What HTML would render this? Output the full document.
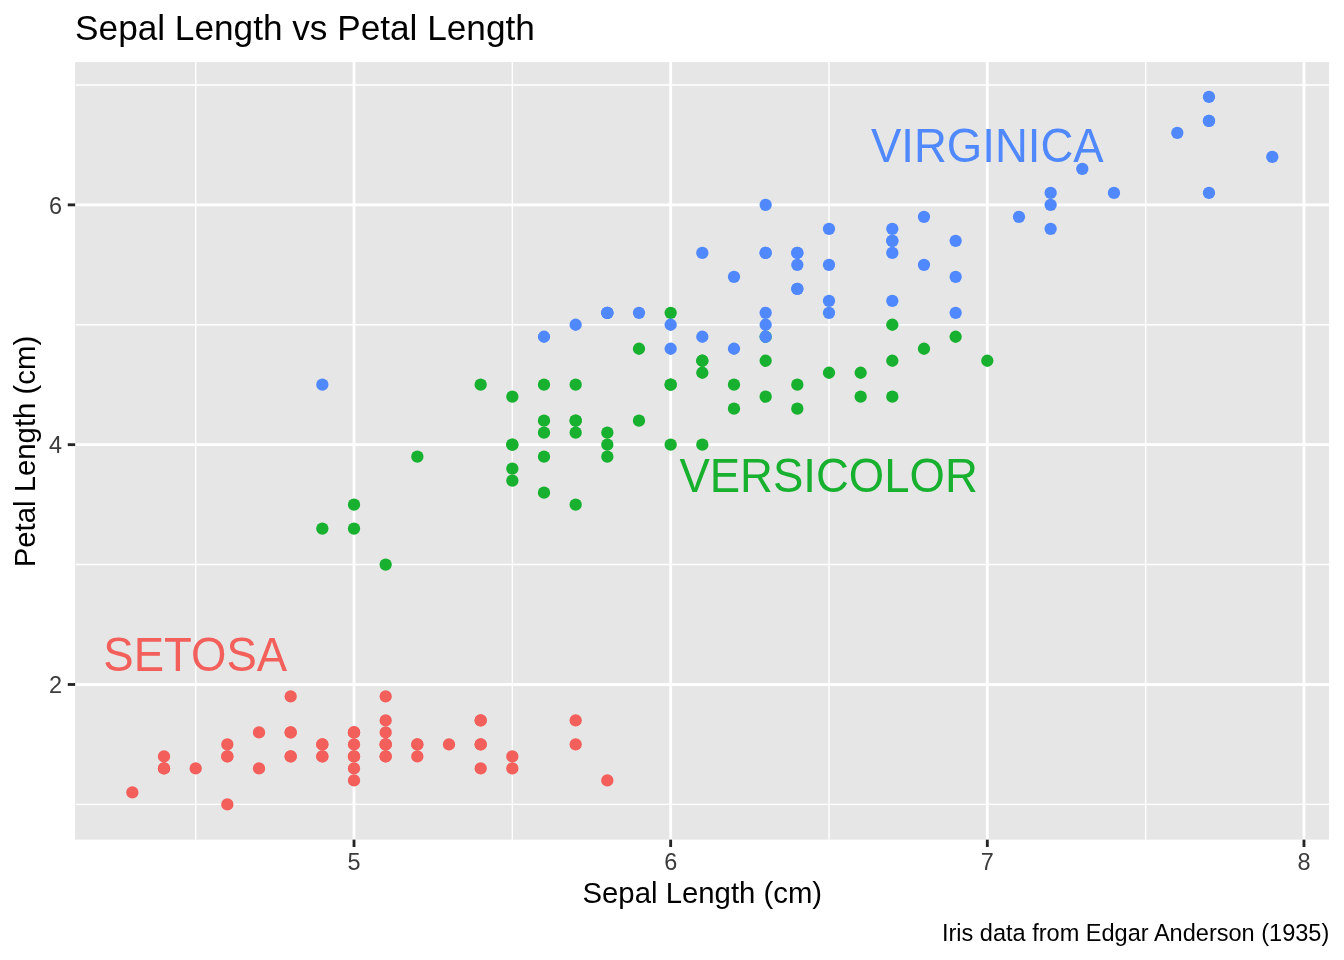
<!DOCTYPE html>
<html lang="en"><head><meta charset="utf-8"><title>Sepal Length vs Petal Length</title>
<style>html,body{margin:0;padding:0;background:#fff;}body{width:1344px;height:960px;overflow:hidden;}svg{display:block;font-family:"Liberation Sans",Arial,Helvetica,sans-serif;}</style></head><body>
<svg width="1344" height="960" viewBox="0 0 1344 960">
<rect width="1344" height="960" fill="#fff"/>
<rect x="75.1" y="62.05" width="1253.95" height="777.60" fill="#E6E6E6"/>
<g stroke="#fff" stroke-width="1.42" fill="none">
<line x1="195.68" x2="195.68" y1="62.05" y2="839.65"/>
<line x1="512.33" x2="512.33" y1="62.05" y2="839.65"/>
<line x1="828.99" x2="828.99" y1="62.05" y2="839.65"/>
<line x1="1145.64" x2="1145.64" y1="62.05" y2="839.65"/>
<line y1="804.39" y2="804.39" x1="75.70" x2="1329.05"/>
<line y1="564.58" y2="564.58" x1="75.70" x2="1329.05"/>
<line y1="324.77" y2="324.77" x1="75.70" x2="1329.05"/>
<line y1="84.96" y2="84.96" x1="75.70" x2="1329.05"/>
</g>
<g stroke="#fff" stroke-width="2.85" fill="none">
<line x1="354.01" x2="354.01" y1="62.05" y2="839.65"/>
<line x1="670.66" x2="670.66" y1="62.05" y2="839.65"/>
<line x1="987.31" x2="987.31" y1="62.05" y2="839.65"/>
<line x1="1303.97" x2="1303.97" y1="62.05" y2="839.65"/>
<line y1="684.48" y2="684.48" x1="75.70" x2="1329.05"/>
<line y1="444.67" y2="444.67" x1="75.70" x2="1329.05"/>
<line y1="204.87" y2="204.87" x1="75.70" x2="1329.05"/>
</g>
<g stroke="#242424" stroke-width="2.85" fill="none">
<line x1="354.01" x2="354.01" y1="839.65" y2="846.98"/>
<line x1="670.66" x2="670.66" y1="839.65" y2="846.98"/>
<line x1="987.31" x2="987.31" y1="839.65" y2="846.98"/>
<line x1="1303.97" x2="1303.97" y1="839.65" y2="846.98"/>
<line y1="684.48" y2="684.48" x1="67.77" x2="75.1"/>
<line y1="444.67" y2="444.67" x1="67.77" x2="75.1"/>
<line y1="204.87" y2="204.87" x1="67.77" x2="75.1"/>
</g>
<g fill="#F35F5B">
<circle cx="385.67" cy="756.43" r="6.15"/>
<circle cx="322.34" cy="756.43" r="6.15"/>
<circle cx="259.01" cy="768.42" r="6.15"/>
<circle cx="227.34" cy="744.44" r="6.15"/>
<circle cx="354.01" cy="756.43" r="6.15"/>
<circle cx="480.67" cy="720.46" r="6.15"/>
<circle cx="227.34" cy="756.43" r="6.15"/>
<circle cx="354.01" cy="744.44" r="6.15"/>
<circle cx="164.01" cy="756.43" r="6.15"/>
<circle cx="322.34" cy="744.44" r="6.15"/>
<circle cx="480.67" cy="744.44" r="6.15"/>
<circle cx="290.67" cy="732.45" r="6.15"/>
<circle cx="290.67" cy="756.43" r="6.15"/>
<circle cx="132.35" cy="792.40" r="6.15"/>
<circle cx="607.33" cy="780.41" r="6.15"/>
<circle cx="575.66" cy="744.44" r="6.15"/>
<circle cx="480.67" cy="768.42" r="6.15"/>
<circle cx="385.67" cy="756.43" r="6.15"/>
<circle cx="575.66" cy="720.46" r="6.15"/>
<circle cx="385.67" cy="744.44" r="6.15"/>
<circle cx="480.67" cy="720.46" r="6.15"/>
<circle cx="385.67" cy="744.44" r="6.15"/>
<circle cx="227.34" cy="804.39" r="6.15"/>
<circle cx="385.67" cy="720.46" r="6.15"/>
<circle cx="290.67" cy="696.47" r="6.15"/>
<circle cx="354.01" cy="732.45" r="6.15"/>
<circle cx="354.01" cy="732.45" r="6.15"/>
<circle cx="417.34" cy="744.44" r="6.15"/>
<circle cx="417.34" cy="756.43" r="6.15"/>
<circle cx="259.01" cy="732.45" r="6.15"/>
<circle cx="290.67" cy="732.45" r="6.15"/>
<circle cx="480.67" cy="744.44" r="6.15"/>
<circle cx="417.34" cy="744.44" r="6.15"/>
<circle cx="512.33" cy="756.43" r="6.15"/>
<circle cx="322.34" cy="744.44" r="6.15"/>
<circle cx="354.01" cy="780.41" r="6.15"/>
<circle cx="512.33" cy="768.42" r="6.15"/>
<circle cx="322.34" cy="756.43" r="6.15"/>
<circle cx="164.01" cy="768.42" r="6.15"/>
<circle cx="385.67" cy="744.44" r="6.15"/>
<circle cx="354.01" cy="768.42" r="6.15"/>
<circle cx="195.68" cy="768.42" r="6.15"/>
<circle cx="164.01" cy="768.42" r="6.15"/>
<circle cx="354.01" cy="732.45" r="6.15"/>
<circle cx="385.67" cy="696.47" r="6.15"/>
<circle cx="290.67" cy="756.43" r="6.15"/>
<circle cx="385.67" cy="732.45" r="6.15"/>
<circle cx="227.34" cy="756.43" r="6.15"/>
<circle cx="449.00" cy="744.44" r="6.15"/>
<circle cx="354.01" cy="756.43" r="6.15"/>
</g>
<g fill="#17B12F">
<circle cx="987.31" cy="360.74" r="6.15"/>
<circle cx="797.32" cy="384.72" r="6.15"/>
<circle cx="955.65" cy="336.76" r="6.15"/>
<circle cx="512.33" cy="444.67" r="6.15"/>
<circle cx="828.99" cy="372.73" r="6.15"/>
<circle cx="575.66" cy="384.72" r="6.15"/>
<circle cx="765.66" cy="360.74" r="6.15"/>
<circle cx="322.34" cy="528.61" r="6.15"/>
<circle cx="860.65" cy="372.73" r="6.15"/>
<circle cx="417.34" cy="456.67" r="6.15"/>
<circle cx="354.01" cy="504.63" r="6.15"/>
<circle cx="638.99" cy="420.69" r="6.15"/>
<circle cx="670.66" cy="444.67" r="6.15"/>
<circle cx="702.32" cy="360.74" r="6.15"/>
<circle cx="544.00" cy="492.64" r="6.15"/>
<circle cx="892.32" cy="396.71" r="6.15"/>
<circle cx="544.00" cy="384.72" r="6.15"/>
<circle cx="607.33" cy="432.68" r="6.15"/>
<circle cx="733.99" cy="384.72" r="6.15"/>
<circle cx="544.00" cy="456.67" r="6.15"/>
<circle cx="638.99" cy="348.75" r="6.15"/>
<circle cx="702.32" cy="444.67" r="6.15"/>
<circle cx="765.66" cy="336.76" r="6.15"/>
<circle cx="702.32" cy="360.74" r="6.15"/>
<circle cx="797.32" cy="408.70" r="6.15"/>
<circle cx="860.65" cy="396.71" r="6.15"/>
<circle cx="923.98" cy="348.75" r="6.15"/>
<circle cx="892.32" cy="324.77" r="6.15"/>
<circle cx="670.66" cy="384.72" r="6.15"/>
<circle cx="575.66" cy="504.63" r="6.15"/>
<circle cx="512.33" cy="468.66" r="6.15"/>
<circle cx="512.33" cy="480.65" r="6.15"/>
<circle cx="607.33" cy="456.67" r="6.15"/>
<circle cx="670.66" cy="312.78" r="6.15"/>
<circle cx="480.67" cy="384.72" r="6.15"/>
<circle cx="670.66" cy="384.72" r="6.15"/>
<circle cx="892.32" cy="360.74" r="6.15"/>
<circle cx="765.66" cy="396.71" r="6.15"/>
<circle cx="544.00" cy="432.68" r="6.15"/>
<circle cx="512.33" cy="444.67" r="6.15"/>
<circle cx="512.33" cy="396.71" r="6.15"/>
<circle cx="702.32" cy="372.73" r="6.15"/>
<circle cx="607.33" cy="444.67" r="6.15"/>
<circle cx="354.01" cy="528.61" r="6.15"/>
<circle cx="544.00" cy="420.69" r="6.15"/>
<circle cx="575.66" cy="420.69" r="6.15"/>
<circle cx="575.66" cy="420.69" r="6.15"/>
<circle cx="733.99" cy="408.70" r="6.15"/>
<circle cx="385.67" cy="564.58" r="6.15"/>
<circle cx="575.66" cy="432.68" r="6.15"/>
</g>
<g fill="#5088FF">
<circle cx="765.66" cy="204.87" r="6.15"/>
<circle cx="607.33" cy="312.78" r="6.15"/>
<circle cx="1018.98" cy="216.86" r="6.15"/>
<circle cx="765.66" cy="252.83" r="6.15"/>
<circle cx="828.99" cy="228.85" r="6.15"/>
<circle cx="1177.31" cy="132.92" r="6.15"/>
<circle cx="322.34" cy="384.72" r="6.15"/>
<circle cx="1082.31" cy="168.89" r="6.15"/>
<circle cx="892.32" cy="228.85" r="6.15"/>
<circle cx="1050.64" cy="192.88" r="6.15"/>
<circle cx="828.99" cy="312.78" r="6.15"/>
<circle cx="797.32" cy="288.80" r="6.15"/>
<circle cx="923.98" cy="264.82" r="6.15"/>
<circle cx="575.66" cy="324.77" r="6.15"/>
<circle cx="607.33" cy="312.78" r="6.15"/>
<circle cx="797.32" cy="288.80" r="6.15"/>
<circle cx="828.99" cy="264.82" r="6.15"/>
<circle cx="1208.97" cy="120.93" r="6.15"/>
<circle cx="1208.97" cy="96.95" r="6.15"/>
<circle cx="670.66" cy="324.77" r="6.15"/>
<circle cx="955.65" cy="240.84" r="6.15"/>
<circle cx="544.00" cy="336.76" r="6.15"/>
<circle cx="1208.97" cy="120.93" r="6.15"/>
<circle cx="765.66" cy="336.76" r="6.15"/>
<circle cx="892.32" cy="240.84" r="6.15"/>
<circle cx="1050.64" cy="204.87" r="6.15"/>
<circle cx="733.99" cy="348.75" r="6.15"/>
<circle cx="702.32" cy="336.76" r="6.15"/>
<circle cx="797.32" cy="252.83" r="6.15"/>
<circle cx="1050.64" cy="228.85" r="6.15"/>
<circle cx="1113.98" cy="192.88" r="6.15"/>
<circle cx="1272.30" cy="156.90" r="6.15"/>
<circle cx="797.32" cy="252.83" r="6.15"/>
<circle cx="765.66" cy="312.78" r="6.15"/>
<circle cx="702.32" cy="252.83" r="6.15"/>
<circle cx="1208.97" cy="192.88" r="6.15"/>
<circle cx="765.66" cy="252.83" r="6.15"/>
<circle cx="797.32" cy="264.82" r="6.15"/>
<circle cx="670.66" cy="348.75" r="6.15"/>
<circle cx="955.65" cy="276.81" r="6.15"/>
<circle cx="892.32" cy="252.83" r="6.15"/>
<circle cx="955.65" cy="312.78" r="6.15"/>
<circle cx="607.33" cy="312.78" r="6.15"/>
<circle cx="923.98" cy="216.86" r="6.15"/>
<circle cx="892.32" cy="240.84" r="6.15"/>
<circle cx="892.32" cy="300.79" r="6.15"/>
<circle cx="765.66" cy="324.77" r="6.15"/>
<circle cx="828.99" cy="300.79" r="6.15"/>
<circle cx="733.99" cy="276.81" r="6.15"/>
<circle cx="638.99" cy="312.78" r="6.15"/>
</g>
<g fill="#3B3B3B" font-size="23.47">
<text x="354.01" y="870.1" text-anchor="middle">5</text>
<text x="670.66" y="870.1" text-anchor="middle">6</text>
<text x="987.31" y="870.1" text-anchor="middle">7</text>
<text x="1303.97" y="870.1" text-anchor="middle">8</text>
<text x="62" y="693.18" text-anchor="end">2</text>
<text x="62" y="453.37" text-anchor="end">4</text>
<text x="62" y="213.57" text-anchor="end">6</text>
</g>
<text x="75.1" y="40.1" font-size="35.2" fill="#000">Sepal Length vs Petal Length</text>
<text x="702.32" y="903" font-size="29.33" text-anchor="middle" fill="#000">Sepal Length (cm)</text>
<text transform="translate(35.4,451.57) rotate(-90)" font-size="29.33" text-anchor="middle" fill="#000">Petal Length (cm)</text>
<text x="1329.3" y="941" font-size="23.55" text-anchor="end" fill="#000">Iris data from Edgar Anderson (1935)</text>
<text transform="translate(195.2,671.0) scale(1,1.045)" font-size="45.52" text-anchor="middle" fill="#F35F5B">SETOSA</text>
<text transform="translate(828.6,491.9) scale(1,1.045)" font-size="45.52" text-anchor="middle" fill="#17B12F">VERSICOLOR</text>
<text transform="translate(987.3,161.8) scale(1,1.045)" font-size="45.52" text-anchor="middle" fill="#5088FF">VIRGINICA</text>
</svg></body></html>
